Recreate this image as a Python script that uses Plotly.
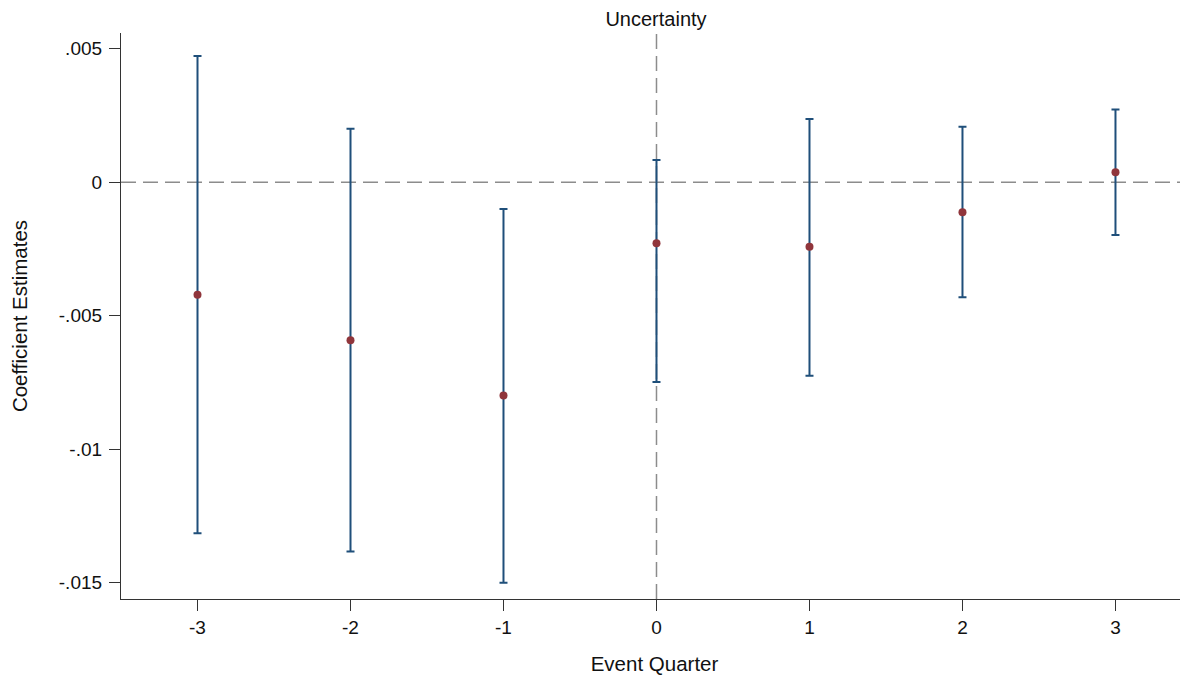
import plotly.graph_objects as go

quarters = [-3, -2, -1, 0, 1, 2, 3]
coef = [-0.00421, -0.00592, -0.00799, -0.002285, -0.00242, -0.00112, 0.000375]
upper = [0.00473, 0.00200, -0.00100, 0.000835, 0.00237, 0.00208, 0.00272]
lower = [-0.01315, -0.01383, -0.01500, -0.00748, -0.00725, -0.00431, -0.00198]
ytick_vals = [0.005, 0, -0.005, -0.01, -0.015]
ytick_text = [".005", "0", "-.005", "-.01", "-.015"]

navy = "#1f4f7a"
maroon = "#90353b"
font = "Liberation Sans, Arial, sans-serif"

W, H = 1180, 669

fig = go.Figure()
fig.add_trace(go.Scatter(
    x=quarters, y=coef, mode="markers",
    marker=dict(color=maroon, size=8),
    error_y=dict(type="data", symmetric=False,
                 array=[u - c for u, c in zip(upper, coef)],
                 arrayminus=[c - l for c, l in zip(coef, lower)],
                 color=navy, thickness=2, width=4),
    showlegend=False,
))

dash_line = dict(color="#8c8c8c", width=1.5, dash="15px,7px")
fig.add_hline(y=0, line=dash_line, layer="below")
fig.add_shape(type="line", xref="x", yref="paper", x0=0, x1=0, y0=0, y1=1.0,
              line=dash_line, layer="below")

fig.update_layout(
    width=W, height=H,
    margin=dict(l=113, r=0, t=25, b=78),
    paper_bgcolor="white", plot_bgcolor="white",
    font=dict(family=font, size=19, color="#111"),
    title=dict(text="Uncertainty", x=648 / W, xanchor="center", xref="container",
               y=1 - 11 / H, yanchor="middle", font=dict(size=20)),
    xaxis=dict(range=[-3.5, 3.474], tickvals=quarters, ticktext=[str(q) for q in quarters],
               showgrid=False, zeroline=False, showline=True, linecolor="#333", linewidth=1.2,
               ticks="outside", ticklen=11, tickcolor="#333", tickfont=dict(size=19),
               title=dict(text="Event Quarter", standoff=19, font=dict(size=20.5))),
    yaxis=dict(range=[-0.01561, 0.00559], tickvals=ytick_vals, ticktext=ytick_text,
               showgrid=False, zeroline=False, showline=True, linecolor="#333", linewidth=1.2,
               ticks="outside", ticklen=11, tickcolor="#333", tickfont=dict(size=19),
               ticklabelstandoff=3,
               title=dict(text="Coefficient Estimates", standoff=28, font=dict(size=20.5))),
)

fig.write_html("out.html")
